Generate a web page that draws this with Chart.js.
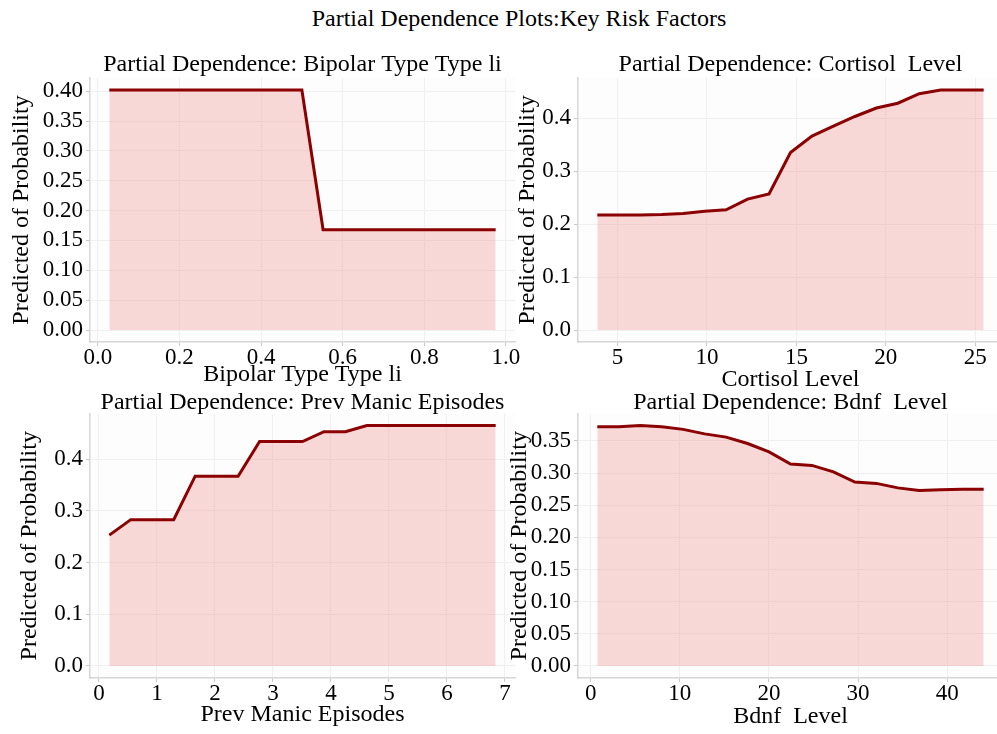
<!DOCTYPE html>
<html>
<head>
<meta charset="utf-8">
<script src="https://cdn.jsdelivr.net/npm/chart.js@4.4.1/dist/chart.umd.min.js"></script>
<style>
  body { margin: 0; background: #fff; overflow: hidden; }
  #wrap { position: relative; width: 997px; height: 734px; overflow: hidden; }
  #wrap canvas { position: absolute; left: 0; top: 0; }
  #suptitle {
    position: absolute; left: 0; top: 5px; width: 1038px;
    text-align: center; font: 24px "Liberation Serif", "Times New Roman", serif;
    line-height: 26px; color: #000;
  }
</style>
</head>
<body>
<div id="wrap">
  <div id="suptitle">Partial Dependence Plots:Key Risk Factors</div>
  <canvas id="c1" width="1010" height="734"></canvas>
  <canvas id="c2" width="1010" height="734"></canvas>
  <canvas id="c3" width="1010" height="734"></canvas>
  <canvas id="c4" width="1010" height="734"></canvas>
</div>
<script>
// --- data ---
const bipolarX = [0.028, 0.5, 0.552, 0.975];
const bipolarY = [0.402, 0.402, 0.168, 0.168];
const bipolarXTicks = [0, 0.2, 0.4, 0.6, 0.8, 1.0];
const bipolarYTicks = [0, 0.05, 0.10, 0.15, 0.20, 0.25, 0.30, 0.35, 0.40];

const cortisolX = [3.87, 5.07, 6.27, 7.47, 8.67, 9.87, 11.07, 12.27, 13.47, 14.67, 15.87, 17.07, 18.27, 19.47, 20.67, 21.87, 23.07, 24.27, 25.47];
const cortisolY = [0.217, 0.217, 0.217, 0.218, 0.220, 0.224, 0.227, 0.247, 0.257, 0.335, 0.366, 0.385, 0.403, 0.419, 0.428, 0.446, 0.453, 0.453, 0.453];
const cortisolXTicks = [5, 10, 15, 20, 25];
const cortisolYTicks = [0, 0.1, 0.2, 0.3, 0.4];

const manicX = [0.18, 0.55, 0.92, 1.29, 1.66, 2.03, 2.40, 2.77, 3.14, 3.51, 3.88, 4.25, 4.62, 4.99, 5.36, 5.73, 6.10, 6.47, 6.84];
const manicY = [0.253, 0.283, 0.283, 0.283, 0.367, 0.367, 0.367, 0.434, 0.434, 0.434, 0.453, 0.453, 0.465, 0.465, 0.465, 0.465, 0.465, 0.465, 0.465];
const manicXTicks = [0, 1, 2, 3, 4, 5, 6, 7];
const manicYTicks = [0, 0.1, 0.2, 0.3, 0.4];

const bdnfX = [0.75, 3.16, 5.57, 7.98, 10.38, 12.79, 15.2, 17.61, 20.02, 22.43, 24.83, 27.24, 29.65, 32.06, 34.47, 36.87, 39.28, 41.69, 44.1];
const bdnfY = [0.372, 0.372, 0.374, 0.372, 0.368, 0.361, 0.356, 0.346, 0.333, 0.314, 0.312, 0.302, 0.286, 0.284, 0.277, 0.273, 0.274, 0.275, 0.275];
const bdnfXTicks = [0, 10, 20, 30, 40];
const bdnfYTicks = [0, 0.05, 0.10, 0.15, 0.20, 0.25, 0.30, 0.35];

const FONT = '"Liberation Serif", "Times New Roman", serif';
const CANVAS_W = 1010, CANVAS_H = 734;
const TITLE_SIZE = 24, HALF = TITLE_SIZE / 2;

// near-white background inside the plot area
const plotBg = {
  id: 'plotBg',
  beforeDraw(chart) {
    const { ctx, chartArea: a } = chart;
    ctx.save();
    ctx.fillStyle = '#fdfdfd';
    ctx.fillRect(a.left, a.top, a.right - a.left, a.bottom - a.top);
    ctx.restore();
  }
};

// matplotlib-like 5% margins
function range(vals) {
  const lo = Math.min(...vals), hi = Math.max(...vals);
  const m = (hi - lo) * 0.05;
  return { min: lo - m, max: hi + m };
}

function makePanel(id, xs, ys, p) {
  const xr = range(xs);
  const yr = range(ys.concat([0]));
  const yW = p.L - (p.yTitleMid - HALF);
  const xH = p.xTitleMid + HALF - p.B;

  new Chart(document.getElementById(id), {
    type: 'line',
    data: {
      datasets: [{
        data: xs.map((x, i) => ({ x: x, y: ys[i] })),
        borderColor: '#8b0000',
        borderWidth: 3,
        backgroundColor: 'rgba(240,128,128,0.3)',
        fill: { value: 0 },
        pointRadius: 0,
        tension: 0
      }]
    },
    options: {
      responsive: false,
      animation: false,
      events: [],
      layout: {
        padding: {
          top: 0,
          left: p.yTitleMid - HALF,
          right: CANVAS_W - p.R,
          bottom: CANVAS_H - (p.B + xH)
        }
      },
      plugins: {
        legend: { display: false },
        tooltip: { enabled: false },
        title: {
          display: true,
          text: p.title,
          fullSize: false,
          color: '#000',
          font: { family: FONT, size: TITLE_SIZE, weight: 'normal', lineHeight: 1 },
          padding: { top: p.titleMid - HALF, bottom: p.T - p.titleMid - HALF }
        }
      },
      scales: {
        x: {
          type: 'linear',
          min: xr.min,
          max: xr.max,
          afterBuildTicks: s => { s.ticks = p.xTicks.map(v => ({ value: v })); },
          afterFit: s => { s.height = xH; s.paddingLeft = 0; s.paddingRight = 0; },
          ticks: {
            autoSkip: false, maxRotation: 0, padding: 0, color: '#000',
            font: { family: FONT, size: 23, lineHeight: 1 },
            callback: v => Number(v).toFixed(p.xDec)
          },
          grid: { color: '#f0f0f0', tickLength: 4, tickColor: '#c8c8c8' },
          border: { display: true, color: '#d6d6d6', width: 1.5 },
          title: {
            display: true, text: p.xTitle, color: '#000', padding: 0,
            font: { family: FONT, size: TITLE_SIZE, lineHeight: 1 }
          }
        },
        y: {
          type: 'linear',
          min: yr.min,
          max: yr.max,
          afterBuildTicks: s => { s.ticks = p.yTicks.map(v => ({ value: v })); },
          afterFit: s => { s.width = yW; s.paddingTop = 0; s.paddingBottom = 0; },
          ticks: {
            padding: 3, color: '#000',
            font: { family: FONT, size: 23, lineHeight: 1 },
            callback: v => Number(v).toFixed(p.yDec)
          },
          grid: { color: '#f0f0f0', tickLength: 4, tickColor: '#c8c8c8' },
          border: { display: true, color: '#d6d6d6', width: 1.5 },
          title: {
            display: true, text: 'Predicted of Probability', color: '#000', padding: 0,
            font: { family: FONT, size: TITLE_SIZE, lineHeight: 1 }
          }
        }
      }
    },
    plugins: [plotBg]
  });
}

makePanel('c1', bipolarX, bipolarY, {
  title: 'Partial Dependence: Bipolar Type Type li', xTitle: 'Bipolar Type Type li',
  xTicks: bipolarXTicks, yTicks: bipolarYTicks, xDec: 1, yDec: 2,
  L: 90, R: 515, T: 78, B: 342, titleMid: 64.5, xTitleMid: 375, yTitleMid: 22
});
makePanel('c2', cortisolX, cortisolY, {
  title: 'Partial Dependence: Cortisol  Level', xTitle: 'Cortisol Level',
  xTicks: cortisolXTicks, yTicks: cortisolYTicks, xDec: 0, yDec: 1,
  L: 578, R: 1003, T: 78, B: 342, titleMid: 64.5, xTitleMid: 380, yTitleMid: 528
});
makePanel('c3', manicX, manicY, {
  title: 'Partial Dependence: Prev Manic Episodes', xTitle: 'Prev Manic Episodes',
  xTicks: manicXTicks, yTicks: manicYTicks, xDec: 0, yDec: 1,
  L: 90, R: 515, T: 413.5, B: 678, titleMid: 402.5, xTitleMid: 715, yTitleMid: 30
});
makePanel('c4', bdnfX, bdnfY, {
  title: 'Partial Dependence: Bdnf  Level', xTitle: 'Bdnf  Level',
  xTicks: bdnfXTicks, yTicks: bdnfYTicks, xDec: 0, yDec: 2,
  L: 578, R: 1003, T: 413.5, B: 678, titleMid: 402.5, xTitleMid: 717, yTitleMid: 520
});
</script>
</body>
</html>
